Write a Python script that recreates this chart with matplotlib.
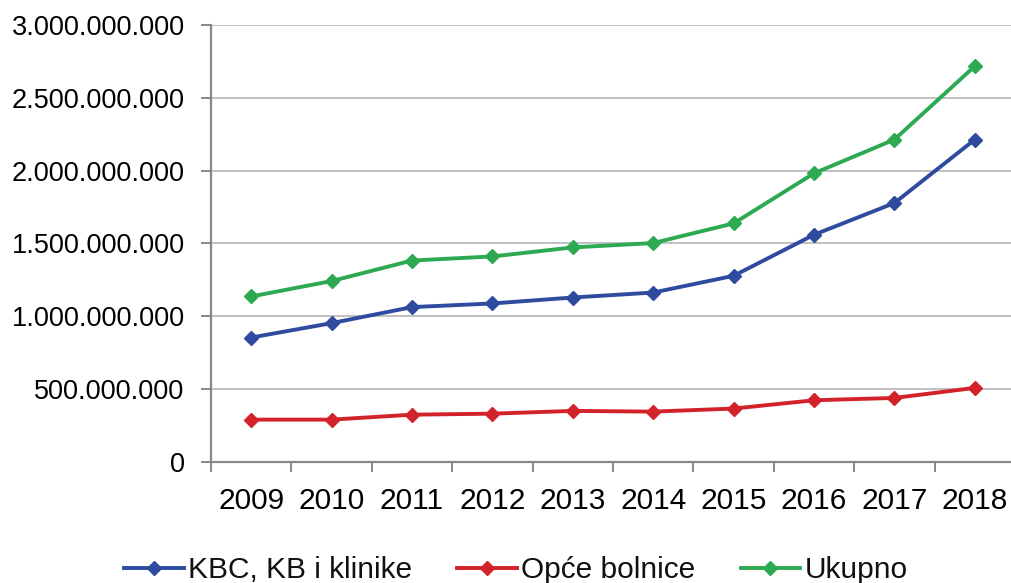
import numpy as np
import matplotlib
matplotlib.use('Agg')
from matplotlib import pyplot as plt
from matplotlib.ticker import FuncFormatter, MultipleLocator

## data
years=['2009','2010','2011','2012','2013','2014','2015','2016','2017','2018']
kbc=[853e6, 952e6, 1062e6, 1087e6, 1128e6, 1162e6, 1277e6, 1559e6, 1777e6, 2213e6]
opce=[289e6, 289e6, 323e6, 330e6, 349e6, 344e6, 365e6, 422e6, 438e6, 507e6]
ukupno=[1135e6, 1241e6, 1382e6, 1410e6, 1472e6, 1502e6, 1637e6, 1981e6, 2213e6, 2717e6]
names=['KBC, KB i klinike', 'Opće bolnice', 'Ukupno']
colors=['#2F4B9F', '#D3232A', '#2DA952']

plt.rcParams['font.family']=['Liberation Sans', 'DejaVu Sans']
plt.rcParams['text.color']='#111111'

fig=plt.figure(figsize=(10.11,5.83), dpi=100)
W, H=1011, 583
ax=fig.add_axes([211/W, (H-461.7)/H, (1015-211)/W, (461.7-25)/H])

x=np.arange(len(years))
for vals, name, c in zip([kbc, opce, ukupno], names, colors):
    ax.plot(x, vals, color=c, lw=2.8, marker='D', ms=7.5, mec=c, label=name,
            solid_joinstyle='round', clip_on=False, zorder=3)

ax.set_xlim(-0.5, len(years)-0.5)
ax.set_ylim(0, 3e9)
ax.yaxis.set_major_locator(MultipleLocator(5e8))
ax.yaxis.set_major_formatter(FuncFormatter(lambda v, p: '{:,.0f}'.format(v).replace(',', '.')))
ax.grid(axis='y', color='#C0C0C2', lw=1.4)
ax.set_axisbelow(True)

ax.set_xticks(x)
ax.set_xticklabels(years)
ax.set_xticks(np.arange(-0.5, len(years)), minor=True)
ax.tick_params(axis='x', which='major', length=0, pad=18, labelsize=21.5)
ax.tick_params(axis='x', which='minor', length=7, width=1.4, color='#888888', direction='out')
ax.tick_params(axis='y', length=7, width=1.4, color='#888888', pad=12, labelsize=19.5)

for s in ['top', 'right']:
    ax.spines[s].set_visible(False)
for s in ['left', 'bottom']:
    ax.spines[s].set_color('#888888')
    ax.spines[s].set_linewidth(1.6)

fig.legend(loc='center', bbox_to_anchor=(516/W, 1-570/H), ncol=3, frameon=False,
           fontsize=21.5, handlelength=2.0, handletextpad=0.15, columnspacing=1.5,
           borderaxespad=0)

fig.savefig('out.png', dpi=100)
